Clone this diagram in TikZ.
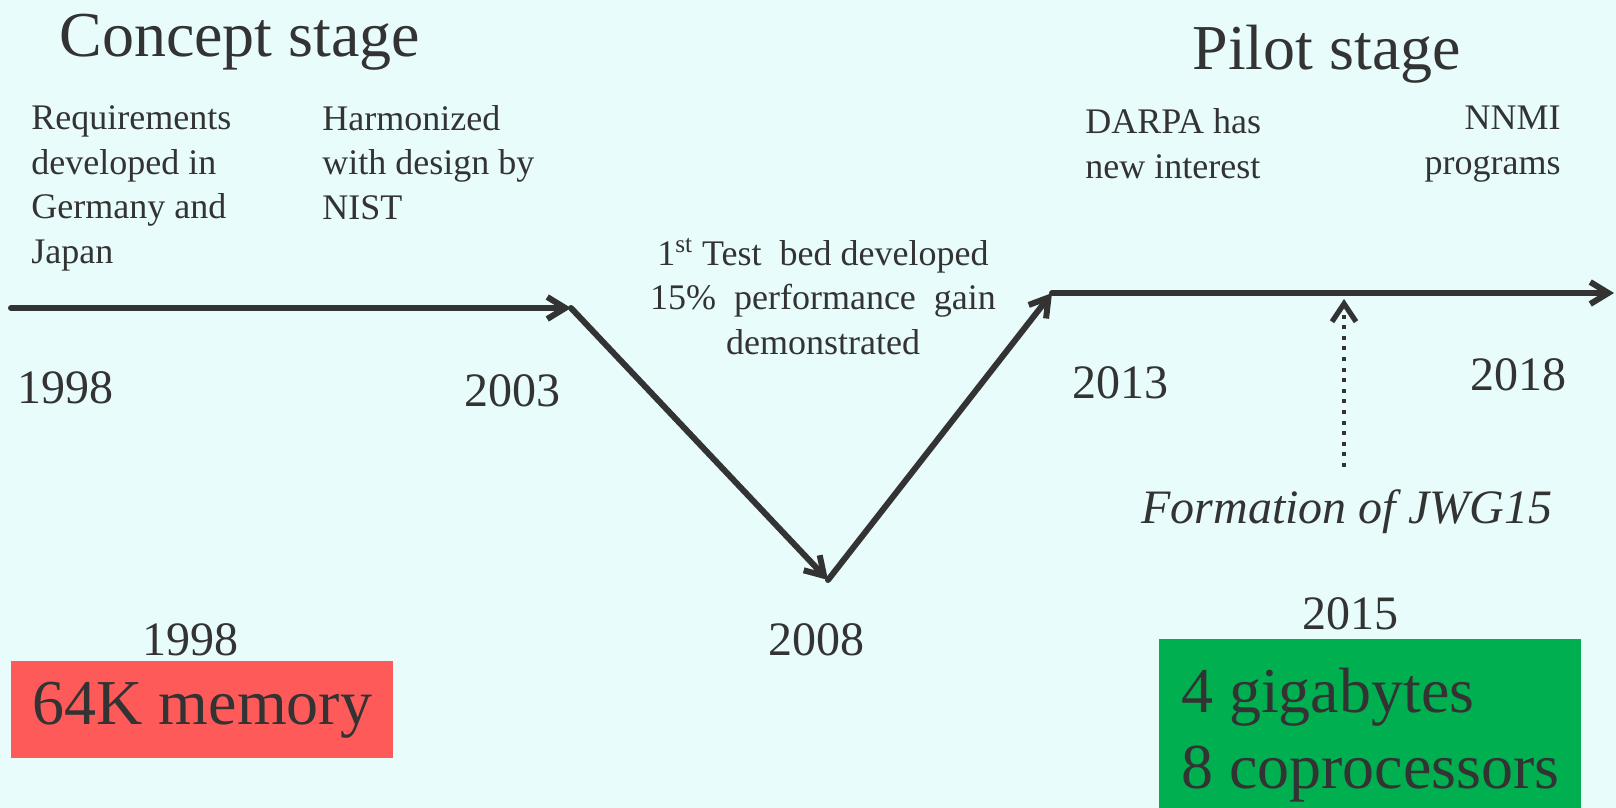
\documentclass[tikz,border=0pt]{standalone}
\usepackage{xcolor}
\usepackage{fontspec}
\setmainfont{Liberation Serif}
\usepackage{tikz}
\usetikzlibrary{arrows.meta}
\definecolor{bgCY}{HTML}{E8FCFC}
\definecolor{inkDK}{HTML}{333333}
\definecolor{fillRD}{HTML}{FF5A5A}
\definecolor{fillGR}{HTML}{00B050}
\tikzstyle{textSM} = [inner sep=0pt, anchor=base west, align=left, font=\fontsize{18}{22.2}\selectfont]
\tikzstyle{textYR} = [inner sep=0pt, anchor=base west, font=\fontsize{24}{28}\selectfont]
\tikzstyle{textBG} = [inner sep=0pt, anchor=base west, font=\fontsize{32}{38}\selectfont]
\tikzstyle{blockRD} = [rectangle, fill=fillRD, anchor=north west, inner sep=0pt, minimum width=191pt, minimum height=48.5pt, font=\fontsize{32}{38}\selectfont]
\tikzstyle{blockGR} = [rectangle, fill=fillGR, anchor=north west, inner xsep=10.5pt, inner ysep=14.5pt, minimum width=211pt, align=left, font=\fontsize{32}{38}\selectfont]
\tikzstyle{line} = [draw, line width=3pt, line cap=round, -{Straight Barb[length=9pt,width=11pt]}]
\tikzstyle{lineDOT} = [draw, line width=2.2pt, dash pattern=on 2pt off 3.3pt, -{Straight Barb[length=9pt,width=12pt,line width=2.6pt]}]

\begin{document}
\begin{tikzpicture}[x=0.5pt, y=-0.5pt, color=inkDK, text=inkDK]
  \clip (0,0) rectangle (1616,808);
  \fill[bgCY] (0,0) rectangle (1616,808);

  % stages
  \node [textBG] (concept) at (59,57) {Concept stage};
  \node [textBG] (pilot) at (1192,70) {Pilot stage};

  % events (placed by the baseline of their last line)
  \node [textSM] (reqs) at (31,263) {Requirements\\developed in\\Germany and\\Japan};
  \node [textSM] (nist) at (322,219) {Harmonized\\with design by\\NIST};
  \node [textSM, anchor=base, align=center] (testbed) at (823,354) {1\textsuperscript{st} Test\ \ bed developed\\15\%\ \ performance\ \ gain\\demonstrated};
  \node [textSM] (darpa) at (1085,178) {DARPA has\\new interest};
  \node [textSM, anchor=base east, align=right] (nnmi) at (1561,174) {NNMI\\programs};

  % years
  \node [textYR] (y1998) at (17,403) {1998};
  \node [textYR] (y2003) at (464,406) {2003};
  \node [textYR] (y2008) at (768,655) {2008};
  \node [textYR] (y2013) at (1072,398) {2013};
  \node [textYR] (y2018) at (1470,390) {2018};
  \node [textYR] (y2015) at (1302,629) {2015};
  \node [textYR] (y1998b) at (142,655) {1998};
  \node [textYR, font=\fontsize{24}{28}\selectfont\itshape] (jwg) at (1141,523) {Formation of JWG15};

  % boxes
  \node [blockRD] (mem) at (11,661) {64K memory};
  \node [blockGR] (giga) at (1159,639) {4 gigabytes\\8 coprocessors};

  % timeline
  \coordinate (p1998) at (11,308);
  \coordinate (p2003) at (571,308);
  \coordinate (p2008) at (828,580);
  \coordinate (p2013) at (1052,293);
  \coordinate (pend) at (1614,293);
  \coordinate (pjwg) at (1344,467);
  \coordinate (pjwgtip) at (1344,299);

  % edges
  \path [line] (p1998) -- (p2003);
  \path [line] (p2003) -- (p2008);
  \path [line] (p2008) -- (p2013);
  \path [line] (p2013) -- (pend);
  \path [lineDOT] (pjwg) -- (pjwgtip);
\end{tikzpicture}
\end{document}
